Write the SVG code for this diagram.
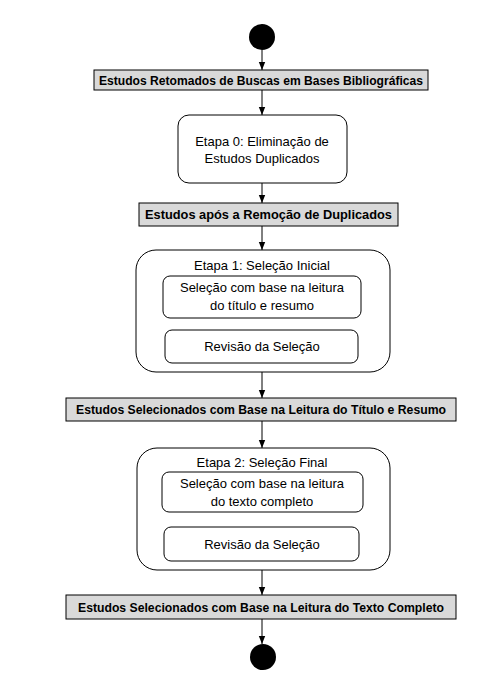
<svg xmlns="http://www.w3.org/2000/svg" width="498" height="682" viewBox="0 0 498 682">
<style>
.bg{fill:#ffffff}
.band{fill:#d9d9d9;stroke:#000;stroke-width:1}
.act{fill:#fff;stroke:#000;stroke-width:1}
.t{font-family:"Liberation Sans",Arial,sans-serif;font-size:13px;fill:#000;text-anchor:middle}
.b{font-family:"Liberation Sans",Arial,sans-serif;font-size:12.8px;font-weight:bold;fill:#000;text-anchor:middle}
.c{stroke:#000;stroke-width:1;fill:none;marker-end:url(#ah)}
</style>
<defs>
<marker id="ah" viewBox="0 0 8 8" refX="8" refY="4" markerWidth="8" markerHeight="8" markerUnits="userSpaceOnUse" orient="auto">
<path d="M0,0.8 L8,4 L0,7.2 Z" fill="#000"/>
</marker>
</defs>
<rect class="bg" x="0" y="0" width="498" height="682"/>
<g id="connectors">
<line class="c" x1="262" y1="50" x2="262" y2="70"/>
<line class="c" x1="262" y1="90" x2="262" y2="115"/>
<line class="c" x1="262" y1="183" x2="262" y2="203"/>
<line class="c" x1="262" y1="226" x2="262" y2="250"/>
<line class="c" x1="262" y1="318" x2="262" y2="330"/>
<line class="c" x1="262" y1="372" x2="262" y2="398"/>
<line class="c" x1="262" y1="421" x2="262" y2="448"/>
<line class="c" x1="262" y1="512" x2="262" y2="527"/>
<line class="c" x1="262" y1="570" x2="262" y2="595"/>
<line class="c" x1="262" y1="619" x2="262" y2="644"/>
</g>
<g id="start"><circle cx="262" cy="37" r="13" fill="#000"/></g>
<g id="n1">
<rect class="band" x="94" y="70" width="334" height="20"/>
<text class="b" x="261" y="84.5" textLength="324" lengthAdjust="spacingAndGlyphs">Estudos Retomados de Buscas em Bases Bibliográficas</text>
</g>
<g id="etapa0">
<rect class="act" x="178" y="115" width="169" height="68" rx="11" ry="11"/>
<text class="t" x="262" y="146">Etapa 0: Eliminação de</text>
<text class="t" x="262" y="163">Estudos Duplicados</text>
</g>
<g id="n2">
<rect class="band" x="139" y="203" width="259" height="23"/>
<text class="b" x="268.5" y="219" textLength="247" lengthAdjust="spacingAndGlyphs">Estudos após a Remoção de Duplicados</text>
</g>
<g id="etapa1">
<rect class="act" x="136" y="250" width="254" height="122" rx="20" ry="20"/>
<text class="t" x="262" y="270">Etapa 1: Seleção Inicial</text>
</g>
<g id="etapa1a">
<rect class="act" x="163" y="276" width="198" height="42" rx="7" ry="7"/>
<text class="t" x="262" y="292">Seleção com base na leitura</text>
<text class="t" x="262" y="310">do título e resumo</text>
</g>
<g id="etapa1b">
<rect class="act" x="165" y="330" width="193" height="33" rx="7" ry="7"/>
<text class="t" x="262" y="351">Revisão da Seleção</text>
</g>
<g id="n3">
<rect class="band" x="66" y="398" width="390" height="23"/>
<text class="b" x="261" y="414" textLength="370" lengthAdjust="spacingAndGlyphs">Estudos Selecionados com Base na Leitura do Título e Resumo</text>
</g>
<g id="etapa2">
<rect class="act" x="137" y="448" width="253" height="122" rx="20" ry="20"/>
<text class="t" x="262" y="467">Etapa 2: Seleção Final</text>
</g>
<g id="etapa2a">
<rect class="act" x="162" y="472" width="201" height="40" rx="7" ry="7"/>
<text class="t" x="262" y="488">Seleção com base na leitura</text>
<text class="t" x="262" y="506">do texto completo</text>
</g>
<g id="etapa2b">
<rect class="act" x="164" y="527" width="195" height="34" rx="7" ry="7"/>
<text class="t" x="262" y="549">Revisão da Seleção</text>
</g>
<g id="n4">
<rect class="band" x="66" y="595" width="390" height="24"/>
<text class="b" x="261" y="611.5" textLength="366" lengthAdjust="spacingAndGlyphs">Estudos Selecionados com Base na Leitura do Texto Completo</text>
</g>
<g id="end"><circle cx="263" cy="657" r="13" fill="#000"/></g>
</svg>
